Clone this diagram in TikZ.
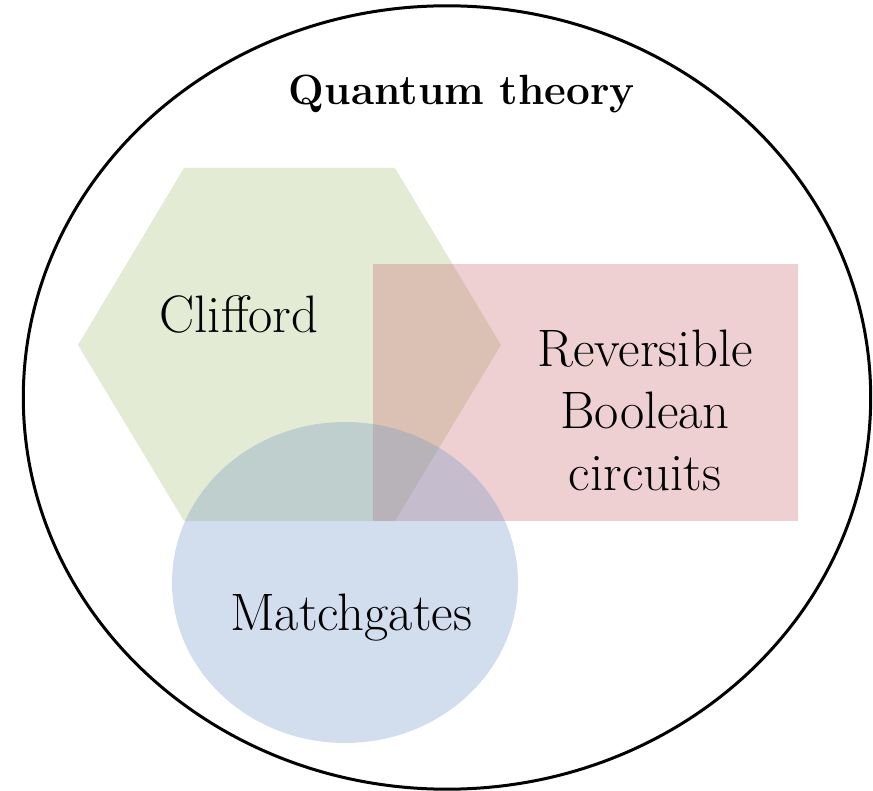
\documentclass[tikz,border=0pt]{standalone}
\usepackage{tikz}
\definecolor{clifgreen}{RGB}{162,188,112}
\definecolor{revpink}{RGB}{198,98,105}
\definecolor{matchblue}{RGB}{105,145,195}
\tikzset{
  region/.style={fill opacity=0.3, draw=none},
  biglabel/.style={inner sep=0pt, font=\fontsize{52.7}{62}\selectfont},
}
\begin{document}
\begin{tikzpicture}[x=1pt,y=-1pt]
\useasboundingbox (0,0) rectangle (873,791);
% outer ellipse
\draw[line width=3pt] (447,397.5) ellipse [x radius=423.7, y radius=391.7];
\node[inner sep=0pt, anchor=base, font=\fontsize{42.3}{50}\selectfont\bfseries] (qt) at (462,105) {Quantum theory};
% Clifford hexagon
\fill[region, fill=clifgreen] (184,168) -- (395,168) -- (501,345) -- (395,521) -- (184,521) -- (78,345) -- cycle;
% Reversible rectangle
\fill[region, fill=revpink] (373,264) rectangle (798,521);
% Matchgates ellipse
\fill[region, fill=matchblue] (345,582.5) ellipse [x radius=173, y radius=160.5];
\node[biglabel, anchor=base] (clif) at (239,333) {Clifford};
\node[biglabel, anchor=base, align=center] (rev) at (645,490) {Reversible\\Boolean\\circuits};
\node[biglabel, anchor=base] (mg) at (351,630) {Matchgates};
\end{tikzpicture}
\end{document}
